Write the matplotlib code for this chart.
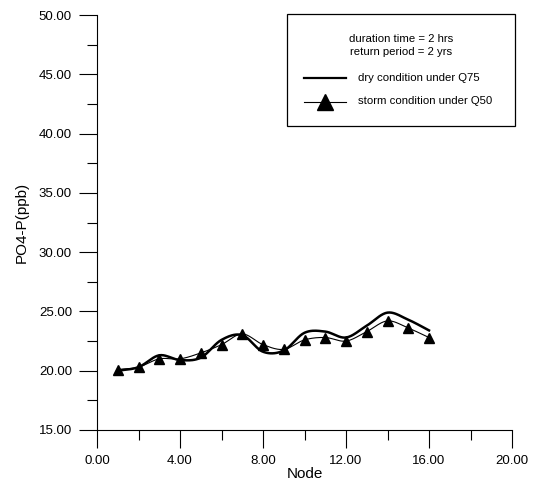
import matplotlib
matplotlib.use('Agg')
import matplotlib.pyplot as plt
import numpy as np
from matplotlib.patches import Rectangle
from matplotlib.lines import Line2D

plt.rcParams['font.family'] = ['Liberation Sans', 'DejaVu Sans']

nodes = np.arange(1, 17)
dry_q75 = [20.0, 20.3, 21.3, 20.9, 21.1, 22.6, 23.0, 21.6, 21.7, 23.2, 23.3, 22.8, 23.8, 24.9, 24.3, 23.4]
storm_q50 = [20.1, 20.3, 21.0, 21.0, 21.5, 22.2, 23.1, 22.2, 21.8, 22.6, 22.8, 22.5, 23.3, 24.2, 23.6, 22.8]
xticks = [0, 4, 8, 12, 16, 20]
yticks = [15, 20, 25, 30, 35, 40, 45, 50]


def smooth(x, y, n=20):
    # catmull-rom curve through the points, for drawing only
    x = np.asarray(x, float)
    y = np.asarray(y, float)
    px = np.concatenate([[2 * x[0] - x[1]], x, [2 * x[-1] - x[-2]]])
    py = np.concatenate([[2 * y[0] - y[1]], y, [2 * y[-1] - y[-2]]])
    xs, ys = [], []
    t = np.linspace(0, 1, n, endpoint=False)
    for i in range(1, len(px) - 2):
        for p, out in ((px, xs), (py, ys)):
            p0, p1, p2, p3 = p[i - 1], p[i], p[i + 1], p[i + 2]
            out.extend(0.5 * (2 * p1 + (-p0 + p2) * t + (2 * p0 - 5 * p1 + 4 * p2 - p3) * t ** 2
                              + (-p0 + 3 * p1 - 3 * p2 + p3) * t ** 3))
    xs.append(x[-1])
    ys.append(y[-1])
    return xs, ys


fig = plt.figure(figsize=(5.35, 4.84), dpi=100)
W, H = 535, 484
ax = fig.add_axes([97 / W, 1 - 430 / H, 415 / W, 415 / H])

sx, sy = smooth(nodes, dry_q75)
ax.plot(sx, sy, color='black', lw=1.8)
sx, sy = smooth(nodes, storm_q50)
ax.plot(sx, sy, color='black', lw=0.8)
ax.plot(nodes, storm_q50, ls='none', marker='^', color='black', ms=7)

ax.set_xlim(0, 20)
ax.set_ylim(15, 50)
ax.set_xticks(xticks)
ax.set_xticklabels(['%.2f' % v for v in xticks])
ax.set_xticks(np.arange(2, 20, 4), minor=True)
ax.set_yticks(yticks)
ax.set_yticklabels(['%.2f' % v for v in yticks])
ax.set_yticks(np.arange(17.5, 50, 5), minor=True)
ax.tick_params(which='major', direction='out', length=13, width=0.8, labelsize=9.5, pad=5)
ax.tick_params(which='minor', direction='out', length=7, width=0.8)
ax.spines['top'].set_visible(False)
ax.spines['right'].set_visible(False)
ax.set_xlabel('Node', fontsize=11, labelpad=0)
ax.set_ylabel('PO4-P(ppb)', fontsize=11, labelpad=7)

# legend box
fig.patches.append(Rectangle((287 / W, 1 - 126 / H), 228 / W, 112 / H, transform=fig.transFigure,
                             fill=False, edgecolor='black', lw=0.9))
fig.text(401 / W, 1 - 39 / H, 'duration time = 2 hrs', ha='center', va='center', fontsize=8.2)
fig.text(401 / W, 1 - 52 / H, 'return period = 2 yrs', ha='center', va='center', fontsize=8.2)
fig.lines.append(Line2D([304 / W, 346 / W], [1 - 78 / H] * 2, transform=fig.transFigure, color='black', lw=1.6))
fig.lines.append(Line2D([304 / W, 346 / W], [1 - 102 / H] * 2, transform=fig.transFigure, color='black', lw=0.8))
fig.lines.append(Line2D([325 / W], [1 - 102 / H], transform=fig.transFigure, color='black', marker='^', ms=11))
fig.text(358 / W, 1 - 78 / H, 'dry condition under Q75', ha='left', va='center', fontsize=8.2)
fig.text(358 / W, 1 - 101 / H, 'storm condition under Q50', ha='left', va='center', fontsize=8.2)

fig.savefig('out.png', dpi=100)
